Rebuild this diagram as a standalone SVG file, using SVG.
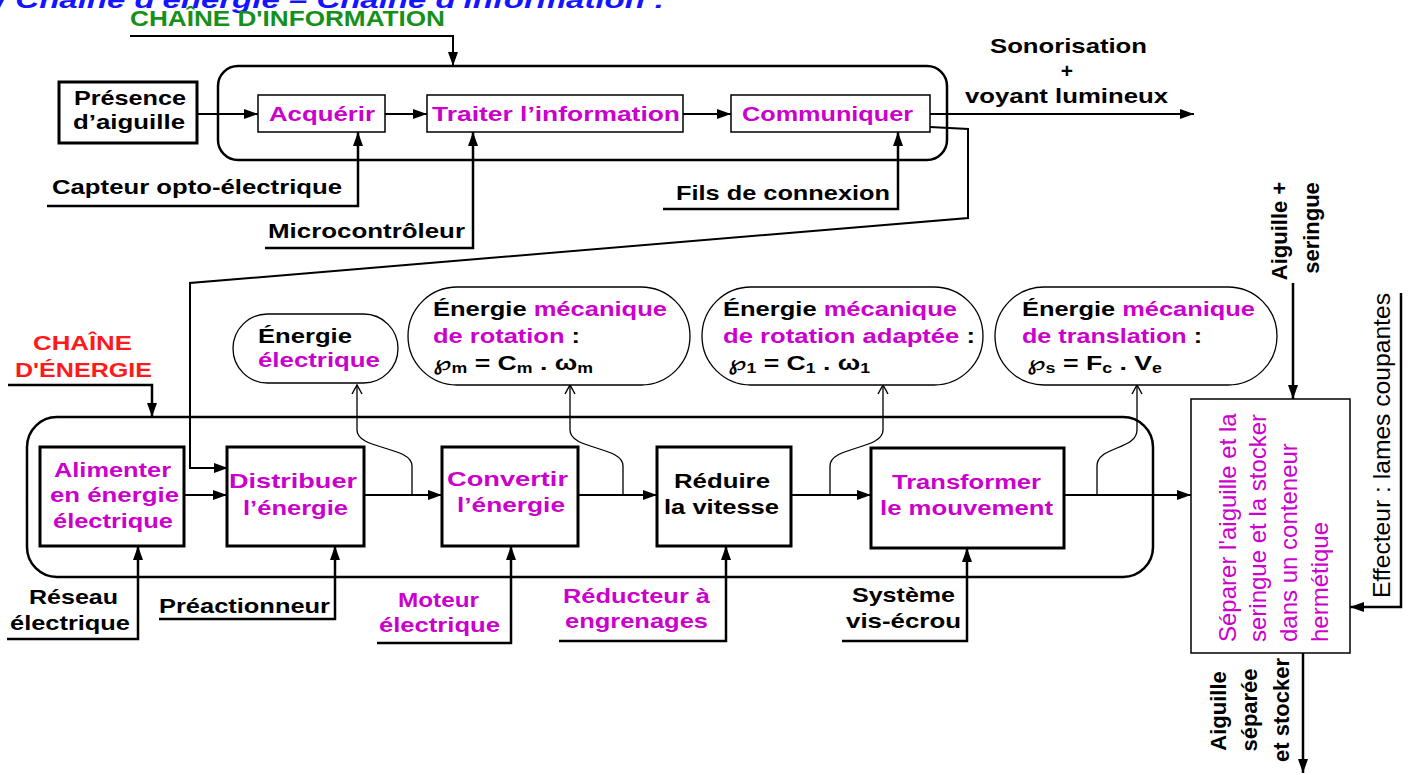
<svg xmlns="http://www.w3.org/2000/svg" width="1411" height="775" viewBox="0 0 1411 775">
<defs>
<marker id="ah" markerUnits="userSpaceOnUse" markerWidth="14" markerHeight="10" refX="14" refY="5" orient="auto"><path d="M0,0 L14,5 L0,10 z" fill="#000"/></marker>
<marker id="oh" markerUnits="userSpaceOnUse" markerWidth="12" markerHeight="12" refX="10" refY="6" orient="auto"><path d="M1,1 L10,6 L1,11" fill="none" stroke="#000" stroke-width="1.4"/></marker>
</defs>
<style>
text{font-family:"Liberation Sans","DejaVu Sans",Arial,sans-serif;font-size:21px;font-weight:bold;fill:#000}
.mg{fill:#cc00cc}
.rg{font-weight:normal;font-size:24px}
.sub{font-size:14px}
.c{fill:none;stroke:#000;stroke-width:2}
.u{fill:none;stroke:#000;stroke-width:2.5}
.t{fill:none;stroke:#000;stroke-width:1.3}
.bx{fill:#fff;stroke:#000;stroke-width:3}
.bt{fill:#fff;stroke:#000;stroke-width:1.5}
.rr{fill:none;stroke:#000;stroke-width:2.5}
.bb{fill:#fff;stroke:#000;stroke-width:1.3}
</style>
<rect width="1411" height="775" fill="#fff"/>
<text x="-3" y="8" textLength="668" lengthAdjust="spacingAndGlyphs" style="font-style:italic;font-size:24px;fill:#1414ff">/ Chaîne d'énergie – Chaîne d'information :</text>

<g id="containers">
<rect class="rr" x="218" y="66" width="729" height="94" rx="20"/>
<rect class="rr" x="27" y="417" width="1126" height="160" rx="30"/>
</g>

<g id="connectors">
<path class="c" d="M130 36 H453 V66" marker-end="url(#ah)"/>
<path class="c" d="M197 114 H258" marker-end="url(#ah)"/>
<path class="c" d="M385 114 H427" marker-end="url(#ah)"/>
<path class="c" d="M683 114 H731" marker-end="url(#ah)"/>
<path class="c" d="M930 114 H1194" marker-end="url(#ah)"/>
<path class="c" d="M930 127 L968 129 V218 L190 283 V468 H228" marker-end="url(#ah)"/>
<path class="u" d="M47 206 H358 V132" marker-end="url(#ah)"/>
<path class="u" d="M265 248 H473 V132" marker-end="url(#ah)"/>
<path class="u" d="M663 209 H898 V132" marker-end="url(#ah)"/>
<path class="u" d="M8 385 H152 V417" marker-end="url(#ah)"/>
<path class="c" d="M184 495 H227" marker-end="url(#ah)"/>
<path class="c" d="M364 495 H442" marker-end="url(#ah)"/>
<path class="c" d="M578 495 H657" marker-end="url(#ah)"/>
<path class="c" d="M791 495 H871" marker-end="url(#ah)"/>
<path class="c" d="M1064 495 H1191" marker-end="url(#ah)"/>
<path class="t" d="M412 495 V466 C412 446 357 450 357 430 V385" marker-end="url(#oh)"/>
<path class="t" d="M623 495 V466 C623 446 570 450 570 430 V385" marker-end="url(#oh)"/>
<path class="t" d="M830 495 V466 C830 446 883 450 883 430 V385" marker-end="url(#oh)"/>
<path class="t" d="M1097 495 V466 C1097 446 1137 450 1137 430 V385" marker-end="url(#oh)"/>
<path class="u" d="M7 639 H138 V546" marker-end="url(#ah)"/>
<path class="u" d="M159 619 H335 V546" marker-end="url(#ah)"/>
<path class="u" d="M377 643 H511 V546" marker-end="url(#ah)"/>
<path class="u" d="M559 641 H726 V546" marker-end="url(#ah)"/>
<path class="u" d="M842 641 H967 V548" marker-end="url(#ah)"/>
<path class="u" d="M1293 283 V399" marker-end="url(#ah)"/>
<path class="u" d="M1401 293 V607 H1350" marker-end="url(#ah)"/>
<path class="u" d="M1303 653 V773" marker-end="url(#ah)"/>
</g>

<g id="title-info">
<text x="130" y="26" textLength="315" lengthAdjust="spacingAndGlyphs" style="fill:#17901a;font-size:22px">CHAÎNE D'INFORMATION</text>
</g>
<g id="title-energie">
<text x="33" y="350" textLength="99" lengthAdjust="spacingAndGlyphs" style="fill:#ff1a1a">CHAÎNE</text>
<text x="15" y="377" textLength="137" lengthAdjust="spacingAndGlyphs" style="fill:#ff1a1a">D'ÉNERGIE</text>
</g>

<g id="presence">
<rect class="bx" x="59" y="82" width="138" height="61"/>
<text x="74" y="105" textLength="112" lengthAdjust="spacingAndGlyphs">Présence</text>
<text x="73" y="129" textLength="112" lengthAdjust="spacingAndGlyphs">d’aiguille</text>
</g>
<g id="acquerir">
<rect class="bt" x="258" y="95" width="127" height="37"/>
<text class="mg" x="269" y="121" textLength="106" lengthAdjust="spacingAndGlyphs">Acquérir</text>
</g>
<g id="traiter">
<rect class="bt" x="427" y="95" width="256" height="37"/>
<text class="mg" x="432" y="121" textLength="248" lengthAdjust="spacingAndGlyphs">Traiter l’information</text>
</g>
<g id="communiquer">
<rect class="bt" x="731" y="95" width="199" height="37"/>
<text class="mg" x="742" y="121" textLength="171" lengthAdjust="spacingAndGlyphs">Communiquer</text>
</g>
<g id="capteur"><text x="52" y="194" textLength="290" lengthAdjust="spacingAndGlyphs">Capteur opto-électrique</text></g>
<g id="micro"><text x="268" y="238" textLength="197" lengthAdjust="spacingAndGlyphs">Microcontrôleur</text></g>
<g id="fils"><text x="676" y="200" textLength="214" lengthAdjust="spacingAndGlyphs">Fils de connexion</text></g>
<g id="sortie-info">
<text x="990" y="53" textLength="157" lengthAdjust="spacingAndGlyphs">Sonorisation</text>
<text x="1067" y="78" text-anchor="middle">+</text>
<text x="965" y="103" textLength="203" lengthAdjust="spacingAndGlyphs">voyant lumineux</text>
</g>

<g id="bulle-electrique">
<rect class="bb" x="233" y="314" width="165" height="69" rx="34.5"/>
<text x="258" y="343" textLength="94" lengthAdjust="spacingAndGlyphs">Énergie</text>
<text class="mg" x="258" y="367" textLength="122" lengthAdjust="spacingAndGlyphs">électrique</text>
</g>
<g id="bulle-rotation">
<rect class="bb" x="408" y="287" width="282" height="98" rx="49"/>
<text x="433" y="316" textLength="234" lengthAdjust="spacingAndGlyphs">Énergie <tspan class="mg">mécanique</tspan></text>
<text x="433" y="343" textLength="147" lengthAdjust="spacingAndGlyphs"><tspan class="mg">de rotation</tspan> :</text>
<text x="433" y="370" textLength="160" lengthAdjust="spacingAndGlyphs">℘<tspan class="sub" dy="3">m</tspan><tspan dy="-3"> = C</tspan><tspan class="sub" dy="3">m</tspan><tspan dy="-3"> . ω</tspan><tspan class="sub" dy="3">m</tspan></text>
</g>
<g id="bulle-adaptee">
<rect class="bb" x="702" y="287" width="281" height="98" rx="49"/>
<text x="723" y="316" textLength="234" lengthAdjust="spacingAndGlyphs">Énergie <tspan class="mg">mécanique</tspan></text>
<text x="723" y="343" textLength="252" lengthAdjust="spacingAndGlyphs"><tspan class="mg">de rotation adaptée</tspan> :</text>
<text x="728" y="370" textLength="142" lengthAdjust="spacingAndGlyphs">℘<tspan class="sub" dy="3">1</tspan><tspan dy="-3"> = C</tspan><tspan class="sub" dy="3">1</tspan><tspan dy="-3"> . ω</tspan><tspan class="sub" dy="3">1</tspan></text>
</g>
<g id="bulle-translation">
<rect class="bb" x="995" y="287" width="282" height="98" rx="49"/>
<text x="1022" y="316" textLength="233" lengthAdjust="spacingAndGlyphs">Énergie <tspan class="mg">mécanique</tspan></text>
<text x="1022" y="343" textLength="180" lengthAdjust="spacingAndGlyphs"><tspan class="mg">de translation</tspan> :</text>
<text x="1027" y="370" textLength="135" lengthAdjust="spacingAndGlyphs">℘<tspan class="sub" dy="3">s</tspan><tspan dy="-3"> = F</tspan><tspan class="sub" dy="3">c</tspan><tspan dy="-3"> . V</tspan><tspan class="sub" dy="3">e</tspan></text>
</g>

<g id="alimenter">
<rect class="bx" x="40" y="447" width="144" height="99"/>
<text class="mg" x="54" y="477" textLength="117" lengthAdjust="spacingAndGlyphs">Alimenter</text>
<text class="mg" x="50" y="502" textLength="129" lengthAdjust="spacingAndGlyphs">en énergie</text>
<text class="mg" x="53" y="528" textLength="120" lengthAdjust="spacingAndGlyphs">électrique</text>
</g>
<g id="distribuer">
<rect class="bx" x="227" y="447" width="137" height="99"/>
<text class="mg" x="229" y="488" textLength="128" lengthAdjust="spacingAndGlyphs">Distribuer</text>
<text class="mg" x="243" y="515" textLength="105" lengthAdjust="spacingAndGlyphs">l’énergie</text>
</g>
<g id="convertir">
<rect class="bx" x="442" y="447" width="136" height="99"/>
<text class="mg" x="447" y="486" textLength="121" lengthAdjust="spacingAndGlyphs">Convertir</text>
<text class="mg" x="457" y="512" textLength="108" lengthAdjust="spacingAndGlyphs">l’énergie</text>
</g>
<g id="reduire">
<rect class="bx" x="657" y="447" width="134" height="99"/>
<text x="674" y="488" textLength="96" lengthAdjust="spacingAndGlyphs">Réduire</text>
<text x="664" y="514" textLength="115" lengthAdjust="spacingAndGlyphs">la vitesse</text>
</g>
<g id="transformer">
<rect class="bx" x="871" y="448" width="193" height="100"/>
<text class="mg" x="892" y="489" textLength="149" lengthAdjust="spacingAndGlyphs">Transformer</text>
<text class="mg" x="880" y="515" textLength="173" lengthAdjust="spacingAndGlyphs">le mouvement</text>
</g>

<g id="reseau">
<text x="29" y="604" textLength="89" lengthAdjust="spacingAndGlyphs">Réseau</text>
<text x="10" y="630" textLength="120" lengthAdjust="spacingAndGlyphs">électrique</text>
</g>
<g id="preactionneur"><text x="159" y="613" textLength="171" lengthAdjust="spacingAndGlyphs">Préactionneur</text></g>
<g id="moteur">
<text class="mg" x="398" y="607" textLength="81" lengthAdjust="spacingAndGlyphs">Moteur</text>
<text class="mg" x="379" y="632" textLength="121" lengthAdjust="spacingAndGlyphs">électrique</text>
</g>
<g id="reducteur">
<text class="mg" x="563" y="603" textLength="147" lengthAdjust="spacingAndGlyphs">Réducteur à</text>
<text class="mg" x="565" y="628" textLength="143" lengthAdjust="spacingAndGlyphs">engrenages</text>
</g>
<g id="systeme">
<text x="852" y="602" textLength="103" lengthAdjust="spacingAndGlyphs">Système</text>
<text x="846" y="628" textLength="115" lengthAdjust="spacingAndGlyphs">vis-écrou</text>
</g>

<g id="separer">
<rect class="bt" x="1191" y="399" width="159" height="254"/>
<text class="mg rg" transform="translate(1236 642) rotate(-90)">Séparer l'aiguille et la</text>
<text class="mg rg" transform="translate(1266 642) rotate(-90)">seringue et la stocker</text>
<text class="mg rg" transform="translate(1297 642) rotate(-90)">dans un conteneur</text>
<text class="mg rg" transform="translate(1328 642) rotate(-90)">hermétique</text>
</g>
<g id="aiguille-seringue">
<text text-anchor="middle" style="font-size:22px" transform="translate(1287 231) rotate(-90)">Aiguille +</text>
<text text-anchor="middle" style="font-size:22px" transform="translate(1319 228) rotate(-90)">seringue</text>
</g>
<g id="effecteur">
<text class="rg" textLength="305" lengthAdjust="spacingAndGlyphs" transform="translate(1390 598) rotate(-90)">Effecteur : lames coupantes</text>
</g>
<g id="aiguille-separee">
<text text-anchor="middle" style="font-size:22px" transform="translate(1226 711) rotate(-90)">Aiguille</text>
<text text-anchor="middle" style="font-size:22px" transform="translate(1257 710) rotate(-90)">séparée</text>
<text text-anchor="middle" style="font-size:22px" transform="translate(1289 710) rotate(-90)">et stocker</text>
</g>
</svg>
